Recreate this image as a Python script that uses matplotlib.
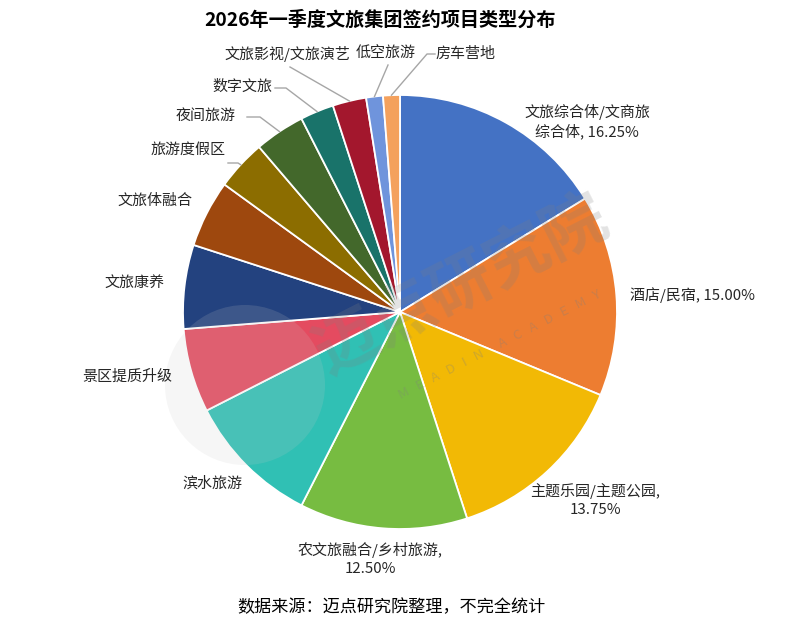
import numpy as np
import matplotlib.pyplot as plt
from matplotlib.patches import Circle

plt.rcParams['font.family'] = ['Noto Sans CJK SC', 'DejaVu Sans']

# data
categories = ['文旅综合体/文商旅综合体', '酒店/民宿', '主题乐园/主题公园', '农文旅融合/乡村旅游',
              '滨水旅游', '景区提质升级', '文旅康养', '文旅体融合', '旅游度假区', '夜间旅游',
              '数字文旅', '文旅影视/文旅演艺', '低空旅游', '房车营地']
shares = [16.25, 15.00, 13.75, 12.50, 10.00, 6.25, 6.25, 5.00, 3.75, 3.75, 2.50, 2.50, 1.25, 1.25]
colors = ['#4472C4', '#ED7D31', '#F2B905', '#77BC41', '#30C0B4', '#E44B60', '#23427F',
          '#9E480E', '#8C6D00', '#43682B', '#19736A', '#A3172D', '#6F94DC', '#F4A15D']

# label text (percent shown only for the four largest)
label_text = ['文旅综合体/文商旅\n综合体, 16.25%', '酒店/民宿, 15.00%', '主题乐园/主题公园,\n13.75%',
              '农文旅融合/乡村旅游,\n12.50%', '滨水旅游', '景区提质升级', '文旅康养', '文旅体融合',
              '旅游度假区', '夜间旅游', '数字文旅', '文旅影视/文旅演艺', '低空旅游', '房车营地']

W, H, R = 800, 643, 217.0
CX, CY = 400, 312


def px(x, y):
    # pixel (from top-left) -> data coords, pie radius = 1
    return (x - CX) / R, (CY - y) / R


# label placement in pixels: (x, y, ha); leader = text-side anchor and elbow
label_pos = [(587, 122, 'center'), (630, 295, 'left'), (595, 500, 'center'), (370, 559, 'center'),
             (212, 484, 'center'), (127, 377, 'center'), (134, 283, 'center'), (155, 201, 'center'),
             (188, 150, 'center'), (206, 116, 'center'), (242, 87, 'center'), (287, 54, 'center'),
             (386, 54, 'center'), (465, 54, 'center')]
leaders = {8: [(228, 163), (238, 163)],
           9: [(247, 117), (260, 117)],
           10: [(275, 88), (286, 88)],
           11: [(290, 67)],
           12: [(388, 65)],
           13: [(435, 54), (427, 54)]}

fig = plt.figure(figsize=(W / 100, H / 100), dpi=100)
ax = fig.add_axes([0, 0, 1, 1])

wedges, _ = ax.pie(shares, colors=colors, startangle=90, counterclock=False, radius=1,
                   wedgeprops=dict(edgecolor='white', linewidth=1.3))
ax.set_xlim(-CX / R, (W - CX) / R)
ax.set_ylim(-(H - CY) / R, CY / R)
ax.axis('off')

for i, w in enumerate(wedges):
    x, y, ha = label_pos[i]
    tx, ty = px(x, y)
    ax.text(tx, ty, label_text[i], ha=ha, va='center', fontsize=10.8, color='#262626',
            linespacing=1.3, zorder=6)
    if i in leaders:
        mid = np.deg2rad((w.theta1 + w.theta2) / 2)
        pts = [px(*p) for p in leaders[i]] + [(np.cos(mid), np.sin(mid))]
        ax.plot([p[0] for p in pts], [p[1] for p in pts], color='#A6A6A6', lw=1, zorder=5)

# watermark
cx_l, cy_l = px(245, 385)
ax.add_patch(Circle((cx_l, cy_l), 80 / R, color='#C8C8C8', alpha=0.16, lw=0, zorder=4))
wx, wy = px(462, 285)
ax.text(wx, wy, '迈点研究院', fontsize=46, fontweight='bold', color='#7F7F7F', alpha=0.22,
        rotation=27, ha='center', va='center', zorder=4)
mx, my = px(500, 345)
ax.text(mx, my, 'M   E   A   D   I   N      A   C   A   D   E   M   Y', fontsize=9.5,
        color='#7F7F7F', alpha=0.3, rotation=27, ha='center', va='center', zorder=4)

fig.text(380 / W, 1 - 20 / H, '2026年一季度文旅集团签约项目类型分布', ha='center', va='center',
         fontsize=13.8, fontweight='bold', color='#000000')
fig.text(391 / W, 1 - 607 / H, '数据来源：迈点研究院整理，不完全统计', ha='center', va='center',
         fontsize=12.3, color='#000000')

fig.savefig('out.png', dpi=100)
